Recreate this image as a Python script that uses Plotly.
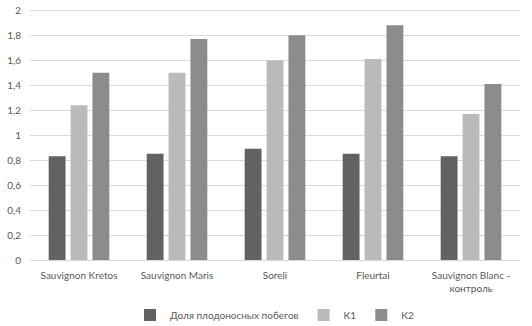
import plotly.graph_objects as go

categories = ["Sauvignon Kretos", "Sauvignon Maris", "Soreli", "Fleurtai", "Sauvignon Blanc -<br>контроль"]
share_fruitful = [0.83, 0.85, 0.89, 0.85, 0.83]
k1 = [1.24, 1.50, 1.60, 1.61, 1.17]
k2 = [1.50, 1.77, 1.80, 1.88, 1.41]
series_names = ["Доля плодоносных побегов", "К1", "К2"]
tick_vals = [0, 0.2, 0.4, 0.6, 0.8, 1.0, 1.2, 1.4, 1.6, 1.8, 2.0]
tick_text = ["0", "0,2", "0,4", "0,6", "0,8", "1", "1,2", "1,4", "1,6", "1,8", "2"]

colors = ["#626262", "#bababa", "#8c8c8c"]

fig = go.Figure()
for name, vals, col in zip(series_names, [share_fruitful, k1, k2], colors):
    fig.add_trace(go.Bar(x=categories, y=vals, name=name, marker_color=col,
                         marker_line_width=0, showlegend=False))
# legend entries with small square swatches
for name, col in zip(series_names, colors):
    fig.add_trace(go.Scatter(x=[None], y=[None], mode="markers", name=name,
                             marker=dict(symbol="square", size=6, color=col),
                             showlegend=True))

font_family = "Lato, 'Open Sans', sans-serif"
fig.update_layout(
    width=532, height=326,
    margin=dict(l=30, r=12, t=9, b=66, autoexpand=False),
    paper_bgcolor="white", plot_bgcolor="white",
    barmode="group", bargap=0.33, bargroupgap=0.23,
    font=dict(family=font_family, size=10, color="#595959"),
    showlegend=True,
    legend=dict(orientation="h", x=0.5, xanchor="center", y=-0.219, yanchor="middle",
                font=dict(size=10, color="#595959"), itemwidth=30,
                itemsizing="constant", traceorder="normal"),
    xaxis=dict(showgrid=False, showline=True, linecolor="#d9d9d9", linewidth=1,
               ticks="", ticklabelstandoff=6, automargin=False,
               tickfont=dict(size=10, color="#595959")),
    yaxis=dict(range=[0, 2.01], tickvals=tick_vals, ticktext=tick_text,
               showgrid=True, gridcolor="#d9d9d9", gridwidth=1,
               zeroline=False, showline=False, ticks="", automargin=False,
               ticklabelstandoff=8,
               tickfont=dict(size=10, color="#595959")),
)

fig.write_html("out.html", config={"displayModeBar": False},
               post_script="document.body.style.margin='0';")
